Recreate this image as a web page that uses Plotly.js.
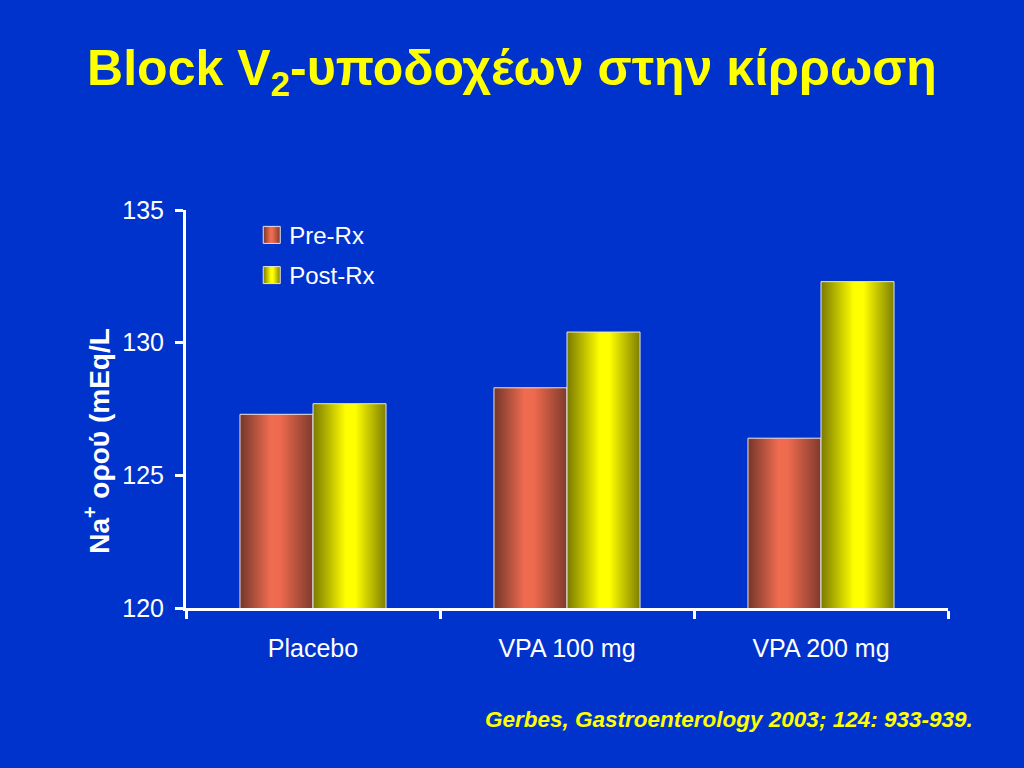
<!DOCTYPE html>
<html>
<head>
<meta charset="utf-8">
<script src="https://cdn.plot.ly/plotly-3.0.1.min.js"></script>
<style>
html,body{margin:0;padding:0;background:#0033CC;}
#chart{width:1024px;height:768px;}
</style>
</head>
<body>
<div id="chart"></div>
<script>
const categories = ["Placebo", "VPA 100 mg", "VPA 200 mg"];
const preRx = [127.3, 128.3, 126.4];
const postRx = [127.7, 130.4, 132.3];
const seriesNames = ["Pre-Rx", "Post-Rx"];
const yTicks = [120, 125, 130, 135];

const FONT = "Liberation Sans, Arial, sans-serif";

const traces = [
  {type: "bar", name: seriesNames[0], x: categories, y: preRx, legendgroup: "a",
   marker: {color: "#EE6A4E", line: {color: "#E6E6E6", width: 1}}, hoverinfo: "none"},
  {type: "bar", name: seriesNames[1], x: categories, y: postRx, legendgroup: "b",
   marker: {color: "#FFFF00", line: {color: "#E6E6E6", width: 1}}, hoverinfo: "none"}
];

const layout = {
  width: 1024, height: 768,
  paper_bgcolor: "#0033CC", plot_bgcolor: "#0033CC",
  margin: {l: 186, r: 76, t: 210, b: 160},
  barmode: "group", bargap: 0.425, bargroupgap: 0,
  showlegend: true,
  title: {text: "Block V<sub>2</sub>-υποδοχέων στην κίρρωση",
          font: {family: FONT, size: 50, color: "#FFFF00", weight: "bold"},
          x: 0.5, xanchor: "center", y: 0.912, yanchor: "middle", yref: "container"},
  xaxis: {type: "category", showgrid: false, zeroline: false,
          showline: true, linecolor: "#FFFFFF", linewidth: 3,
          ticks: "outside", tickson: "boundaries", ticklen: 8, tickwidth: 3, tickcolor: "#FFFFFF",
          ticklabelstandoff: 16,
          tickfont: {family: FONT, size: 25, color: "#FFFFFF"}},
  yaxis: {range: [120, 135], tickvals: yTicks, showgrid: false, zeroline: false,
          showline: true, linecolor: "#FFFFFF", linewidth: 3,
          ticks: "outside", ticklen: 8, tickwidth: 3, tickcolor: "#FFFFFF",
          ticklabelstandoff: 6,
          tickfont: {family: FONT, size: 25, color: "#FFFFFF"}},
  legend: {x: 0.083, y: 0.993, xanchor: "left", yanchor: "top",
           bgcolor: "rgba(0,0,0,0)", traceorder: "grouped", tracegroupgap: 6,
           font: {family: FONT, size: 24, color: "#FFFFFF"}},
  annotations: [
    {text: "<b>Na<sup>+</sup> ορού (mEq/L</b>", textangle: -90, xref: "paper", yref: "paper",
     x: -0.117, y: 0.42, xanchor: "center", yanchor: "middle", showarrow: false,
     font: {family: FONT, size: 28, color: "#FFFFFF"}},
    {text: "<b><i>Gerbes, Gastroenterology 2003; 124: 933-939.</i></b>", xref: "paper", yref: "paper",
     x: 1.036, y: -0.281, xanchor: "right", yanchor: "middle", showarrow: false,
     font: {family: FONT, size: 22.5, color: "#FFFF00"}}
  ]
};

function addGradients(gd) {
  const svg = gd.querySelector("svg.main-svg");
  if (!svg) return;
  const ns = "http://www.w3.org/2000/svg";
  let defs = svg.querySelector("defs");
  if (!defs) { defs = document.createElementNS(ns, "defs"); svg.insertBefore(defs, svg.firstChild); }
  const grads = {
    gradPre: [["0%", "#74362A"], ["42%", "#F06C50"], ["55%", "#EE6A4E"], ["100%", "#7E3A2C"]],
    gradPost: [["0%", "#7A7A00"], ["45%", "#FFFF00"], ["58%", "#FFFF00"], ["100%", "#7F7F00"]]
  };
  Object.keys(grads).forEach(id => {
    if (svg.querySelector("#" + id)) return;
    const g = document.createElementNS(ns, "linearGradient");
    g.setAttribute("id", id);
    g.setAttribute("x1", "0"); g.setAttribute("y1", "0");
    g.setAttribute("x2", "1"); g.setAttribute("y2", "0");
    grads[id].forEach(([o, c]) => {
      const s = document.createElementNS(ns, "stop");
      s.setAttribute("offset", o); s.setAttribute("stop-color", c);
      g.appendChild(s);
    });
    defs.appendChild(g);
  });
  const ids = ["gradPre", "gradPost"];
  gd.querySelectorAll(".barlayer .trace.bars").forEach((t, i) => {
    t.querySelectorAll("path").forEach(p => { p.style.fill = "url(#" + ids[i] + ")"; });
  });
  gd.querySelectorAll(".legend .traces").forEach((t, i) => {
    t.querySelectorAll(".legendpoints path").forEach(p => {
      p.setAttribute("d", "M-6,-8.5H11V8.5H-6Z");
      p.style.fill = "url(#" + ids[i] + ")";
      p.style.stroke = "#E6E6E6";
      p.style.strokeWidth = "1px";
    });
  });
}

Plotly.newPlot("chart", traces, layout, {staticPlot: true, displayModeBar: false}).then(addGradients);
</script>
</body>
</html>
